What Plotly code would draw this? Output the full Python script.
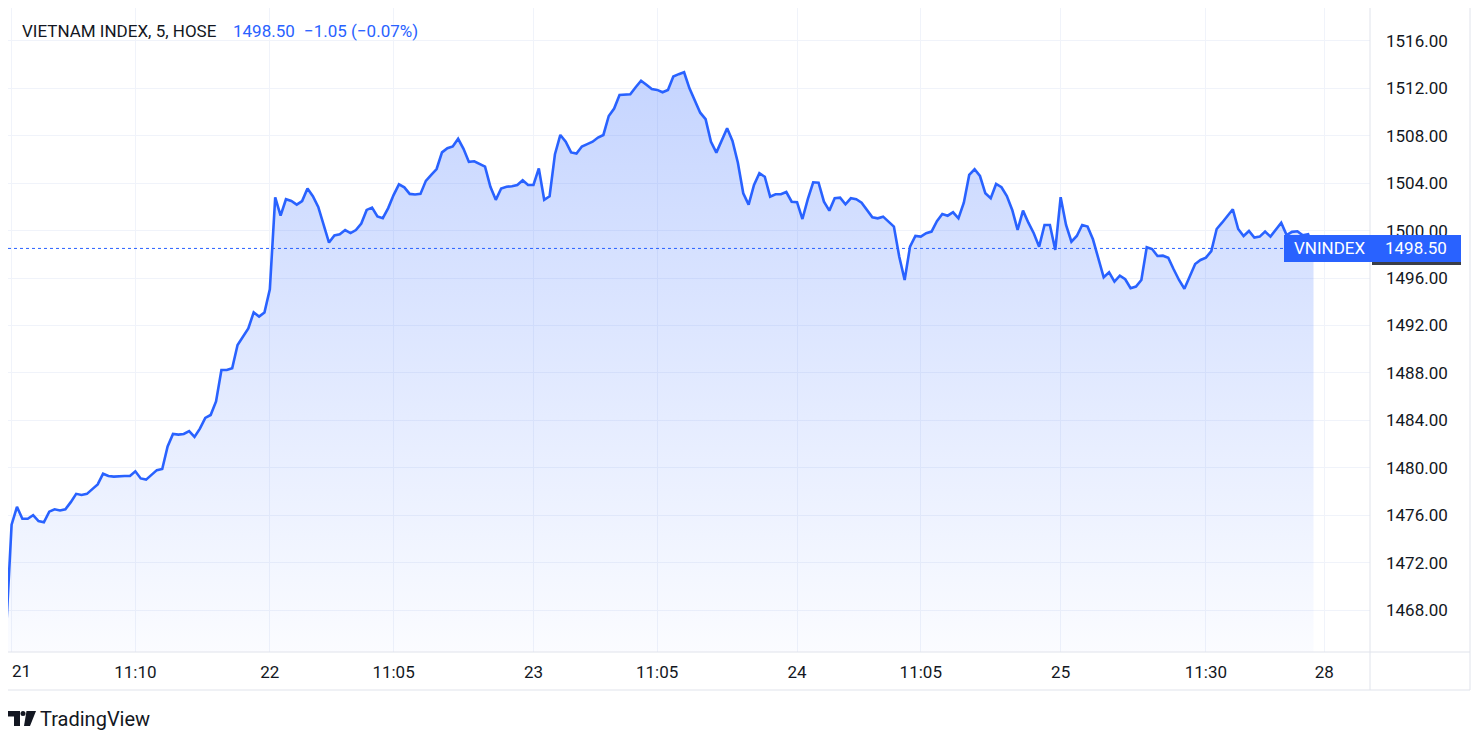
import plotly.graph_objects as go

# ---------------- data ----------------
title_text = "VIETNAM INDEX, 5, HOSE"
symbol = "VNINDEX"
prev_close = 1499.55

# 5-minute closes, one list per session (first value = prior session's last bar)
d21 = [1466.5, 1475.2, 1476.7, 1475.7, 1475.7, 1476.0, 1475.5, 1475.4, 1476.3, 1476.5,
       1476.4, 1476.5, 1477.1, 1477.8, 1477.7, 1477.8, 1478.2, 1478.6, 1479.5, 1479.3,
       1479.25, 1479.3, 1479.3, 1479.3, 1479.7, 1479.1, 1479.0, 1479.4, 1479.8, 1479.9,
       1481.8, 1482.85, 1482.8, 1482.85, 1483.1, 1482.6, 1483.3, 1484.2, 1484.45, 1485.6,
       1488.25, 1488.25, 1488.4, 1490.35, 1491.1, 1491.75, 1493.1, 1492.75, 1493.1]
d22 = [1495.05, 1502.8, 1501.26, 1502.65, 1502.5, 1502.2, 1502.5, 1503.55, 1502.9, 1502.0,
       1500.6, 1499.0, 1499.6, 1499.7, 1500.05, 1499.8, 1500.05, 1500.6, 1501.75, 1501.95,
       1501.2, 1501.05, 1501.9, 1503.0, 1503.9, 1503.65, 1503.1, 1503.05, 1503.1, 1504.2,
       1504.7, 1505.2, 1506.6, 1506.95, 1507.1, 1507.75, 1506.9, 1505.8, 1505.85, 1505.6,
       1505.4, 1503.7, 1502.6, 1503.55, 1503.7, 1503.75, 1503.85, 1504.25, 1503.85]
d23 = [1503.85, 1505.25, 1502.6, 1502.9, 1506.45, 1508.07, 1507.5, 1506.6, 1506.5, 1507.1,
       1507.3, 1507.5, 1507.85, 1508.07, 1509.67, 1510.3, 1511.45, 1511.5, 1511.5, 1512.1,
       1512.65, 1512.3, 1511.95, 1511.87, 1511.67, 1511.87, 1513.0, 1513.2, 1513.36, 1512.0,
       1510.96, 1509.95, 1509.4, 1507.5, 1506.58, 1507.65, 1508.63, 1507.56, 1505.73, 1503.15,
       1502.2, 1503.85, 1504.84, 1504.55, 1502.87, 1503.07, 1503.07, 1503.26, 1502.44]
d24 = [1502.4, 1500.98, 1502.65, 1504.08, 1504.05, 1502.44, 1501.69, 1502.73, 1502.78, 1502.22,
       1502.73, 1502.65, 1502.36, 1501.74, 1501.13, 1501.04, 1501.18, 1500.76, 1500.34, 1497.8,
       1495.84, 1498.65, 1499.55, 1499.5, 1499.78, 1499.92, 1500.8, 1501.4, 1501.26, 1501.55,
       1501.04, 1502.36, 1504.7, 1505.18, 1504.61, 1503.15, 1502.73, 1503.94, 1503.66, 1502.92,
       1501.74, 1500.06, 1501.69, 1500.67, 1499.78, 1498.65, 1500.48, 1500.48, 1498.37]
d25 = [1502.82, 1500.48, 1499.07, 1499.55, 1500.48, 1500.34, 1499.27, 1497.67, 1496.07, 1496.49,
       1495.7, 1496.2, 1495.9, 1495.14, 1495.28, 1495.84, 1498.6, 1498.45, 1497.86, 1497.89,
       1497.72, 1496.74, 1495.84, 1495.1, 1496.18, 1497.19, 1497.53, 1497.72, 1498.28, 1500.14,
       1500.67, 1501.24, 1501.8, 1500.14, 1499.55, 1499.97, 1499.41, 1499.5, 1499.92, 1499.5,
       1500.11, 1500.67, 1499.63, 1499.9, 1499.95, 1499.6, 1499.7, 1498.5]

tick_bar = [1, 24, 49, 72, 98, 121, 147, 170, 196, 223, 245]
tick_text = ["21", "11:10", "22", "11:05", "23", "11:05", "24", "11:05", "25", "11:30", "28"]
price_ticks = [1468, 1472, 1476, 1480, 1484, 1488, 1492, 1496, 1500, 1504, 1508, 1512, 1516]

close = d21 + d22 + d23 + d24 + d25
bar = list(range(len(close)))
last = close[-1]
chg = last - prev_close
pct = chg / prev_close * 100

# ---------------- layout geometry (page pixels) ----------------
OFF = 8                      # default body margin of the html page
W, H = 1482 - OFF, 745 - OFF
PL, PR, PT, PB = 8, 1370, 8, 652
x_range = [0.33, 253.5]
y_range = [1464.46, 1518.78]

BLUE = "#2962ff"
TXT = "#131722"
GRID = "#f0f3fa"
BORDER = "#e0e3eb"
FONT = "Roboto, Liberation Sans, sans-serif"
FS = 17


def px(xp):
    return (xp - PL) / (PR - PL)


def py(yp):
    return (PB - yp) / (PB - PT)


def yv(v):
    return (v - y_range[0]) / (y_range[1] - y_range[0])


fig = go.Figure()
fig.add_trace(go.Scatter(
    x=bar, y=close, mode="lines",
    line=dict(color=BLUE, width=2.6),
    fill="tozeroy",
    fillgradient=dict(type="vertical", start=y_range[0], stop=max(close),
                      colorscale=[[0, "rgba(41,98,255,0.02)"], [1, "rgba(41,98,255,0.27)"]]),
    hoverinfo="skip", showlegend=False,
))

shapes = []
shapes.append(dict(type="line", xref="paper", yref="y", x0=0, x1=1, y0=last, y1=last,
                   line=dict(color=BLUE, width=1, dash="dot"), layer="above"))
for (x0, y0, x1, y1) in [(7, PT, 7, 690), (7, 690, 1470, 690), (1470, PT, 1470, 690),
                         (7, PB, 1470, PB), (PR, PT, PR, 690)]:
    shapes.append(dict(type="line", xref="paper", yref="paper", x0=px(x0), x1=px(x1),
                       y0=py(y0), y1=py(y1), line=dict(color=BORDER, width=1), layer="above"))
half = 13.5 / (PB - PT)
shapes.append(dict(type="rect", xref="paper", yref="paper", x0=px(1372), x1=px(1461),
                   y0=yv(last) - half - 3 / (PB - PT), y1=yv(last) - half + 1 / (PB - PT),
                   fillcolor="#3a3e48", line=dict(width=0), layer="above"))
shapes.append(dict(type="rect", xref="paper", yref="paper", x0=px(1284), x1=px(1461),
                   y0=yv(last) - half, y1=yv(last) + half,
                   fillcolor=BLUE, line=dict(width=0), layer="above"))
# TradingView logo
lg = "#131722"
shapes.append(dict(type="rect", xref="paper", yref="paper", x0=px(8), x1=px(20),
                   y0=py(716.5), y1=py(711), fillcolor=lg, line=dict(width=0), layer="above"))
shapes.append(dict(type="rect", xref="paper", yref="paper", x0=px(14), x1=px(20),
                   y0=py(726), y1=py(711), fillcolor=lg, line=dict(width=0), layer="above"))
shapes.append(dict(type="circle", xref="paper", yref="paper", x0=px(20.5), x1=px(25.5),
                   y0=py(716), y1=py(711), fillcolor=lg, line=dict(width=0), layer="above"))
path = "M {} {} L {} {} L {} {} L {} {} Z".format(px(26.5), py(711), px(36), py(711),
                                                  px(30), py(726), px(24), py(726))
shapes.append(dict(type="path", xref="paper", yref="paper", path=path,
                   fillcolor=lg, line=dict(width=0), layer="above"))

ann = []
ann.append(dict(xref="paper", yref="paper", x=px(20), y=py(31), xanchor="left", yanchor="middle",
                text=title_text, showarrow=False, font=dict(size=FS, color=TXT, family=FONT)))
ann.append(dict(xref="paper", yref="paper", x=px(231), y=py(31), xanchor="left", yanchor="middle",
                text=f"{last:.2f}", showarrow=False, font=dict(size=FS, color=BLUE, family=FONT)))
ann.append(dict(xref="paper", yref="paper", x=px(302), y=py(31), xanchor="left", yanchor="middle",
                text=f"{chg:+.2f} ({pct:+.2f}%)".replace("-", "\u2212").replace("+", ""),
                showarrow=False, font=dict(size=FS, color=BLUE, family=FONT)))
ann.append(dict(xref="paper", yref="paper", x=px(1292), y=yv(last), xanchor="left", yanchor="middle",
                text=symbol, showarrow=False, font=dict(size=FS, color="white", family=FONT)))
ann.append(dict(xref="paper", yref="paper", x=px(1449), y=yv(last), xanchor="right", yanchor="middle",
                text=f"{last:.2f}", showarrow=False, font=dict(size=FS, color="white", family=FONT)))
ann.append(dict(xref="paper", yref="paper", x=px(38), y=py(719), xanchor="left", yanchor="middle",
                text="TradingView", showarrow=False, font=dict(size=20, color=TXT, family=FONT)))
# first date label (plotly drops it because it touches the left edge)
ann.append(dict(xref="paper", yref="paper", x=px(10), y=py(671), xanchor="left", yanchor="middle",
                text=tick_text[0], showarrow=False, font=dict(size=FS, color=TXT, family=FONT)))

fig.update_layout(
    width=W, height=H,
    margin=dict(l=PL - OFF, r=W - (PR - OFF), t=PT - OFF, b=H - (PB - OFF)),
    paper_bgcolor="white", plot_bgcolor="white",
    shapes=shapes, annotations=ann,
    font=dict(family=FONT, color=TXT, size=FS),
    xaxis=dict(range=x_range, tickmode="array", tickvals=tick_bar, ticktext=tick_text,
               showgrid=True, gridcolor=GRID, gridwidth=1, zeroline=False, showline=False,
               ticks="", ticklabelstandoff=8, tickfont=dict(size=FS, color=TXT, family=FONT)),
    yaxis=dict(range=y_range, side="right", tickmode="array", tickvals=price_ticks,
               tickformat=".2f", showgrid=True, gridcolor=GRID, gridwidth=1, zeroline=False,
               showline=False, ticks="", ticklabelstandoff=15,
               tickfont=dict(size=FS, color=TXT, family=FONT)),
    hovermode=False,
)

fig.write_html("out.html", config={"displayModeBar": False})
